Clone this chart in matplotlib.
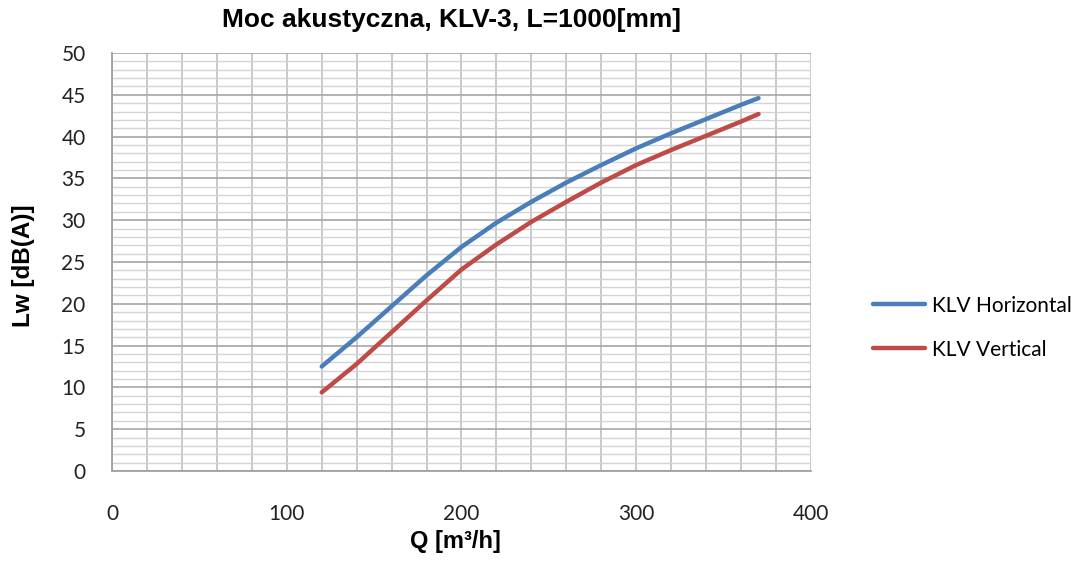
import numpy as np
import matplotlib.pyplot as plt
from matplotlib.ticker import MultipleLocator

# przepływ [m3/h]
q = [120, 140, 160, 180, 200, 220, 240, 260, 280, 300, 320, 340, 360, 370]
# moc akustyczna [dB(A)]
lw_horizontal = [12.5, 16.0, 19.7, 23.4, 26.8, 29.7, 32.2, 34.5, 36.6, 38.6, 40.4, 42.1, 43.8, 44.6]
lw_vertical = [9.4, 12.8, 16.6, 20.4, 24.1, 27.1, 29.8, 32.2, 34.5, 36.6, 38.4, 40.1, 41.8, 42.7]

labels = ['KLV Horizontal', 'KLV Vertical']
colors = ['#4A7EBB', '#BE4B48']

fig = plt.figure(figsize=(10.81, 5.65), dpi=100)
ax = fig.add_axes([0.1036, 0.1664, 0.6466, 0.7398])

ax.plot(q, lw_horizontal, color=colors[0], lw=3.2, label=labels[0], solid_capstyle='round', solid_joinstyle='round')
ax.plot(q, lw_vertical, color=colors[1], lw=3.2, label=labels[1], solid_capstyle='round', solid_joinstyle='round')

ax.set_xlim(0, 400)
ax.set_ylim(0, 50)
ax.xaxis.set_major_locator(MultipleLocator(100))
ax.xaxis.set_minor_locator(MultipleLocator(20))
ax.yaxis.set_major_locator(MultipleLocator(5))
ax.yaxis.set_minor_locator(MultipleLocator(1))

# siatka jak w Excelu
ax.grid(which='minor', axis='y', color='#d4d4d4', lw=1.0)
ax.grid(which='major', axis='y', color='#a6a6a6', lw=1.2)
ax.grid(which='both', axis='x', color='#c0c0c0', lw=1.2)
ax.set_axisbelow(True)

for s in ['top', 'right']:
    ax.spines[s].set_visible(False)
for s in ['left', 'bottom']:
    ax.spines[s].set_color('#a0a0a0')
    ax.spines[s].set_linewidth(1.3)

ax.tick_params(which='both', length=0)
ax.tick_params(axis='x', pad=24)
ax.tick_params(axis='y', pad=19)
for t in ax.get_xticklabels() + ax.get_yticklabels():
    t.set_fontfamily('Lato')
    t.set_fontsize(15)
    t.set_color('#222222')

fig.text(0.418, 0.965, 'Moc akustyczna, KLV-3, L=1000[mm]', fontfamily='Liberation Sans',
         fontweight='bold', fontsize=19, ha='center', va='center')
ax.set_xlabel('Q [m³/h]', fontfamily='Liberation Sans', fontweight='bold', fontsize=17)
ax.set_ylabel('Lw [dB(A)]', fontfamily='Liberation Sans', fontweight='bold', fontsize=17.5)
ax.xaxis.set_label_coords(0.492, -0.168)
ax.xaxis.label.set_va('center')
ax.yaxis.set_label_coords(-0.126, 0.49)
ax.yaxis.label.set_va('center')

fig.legend(loc='center left', bbox_to_anchor=(873 / 1081, 0.42), frameon=False,
           prop={'family': 'Lato', 'size': 15}, handlelength=2.5, handletextpad=0.35,
           labelspacing=1.15, borderpad=0, borderaxespad=0)

fig.savefig('out.png', dpi=100)
